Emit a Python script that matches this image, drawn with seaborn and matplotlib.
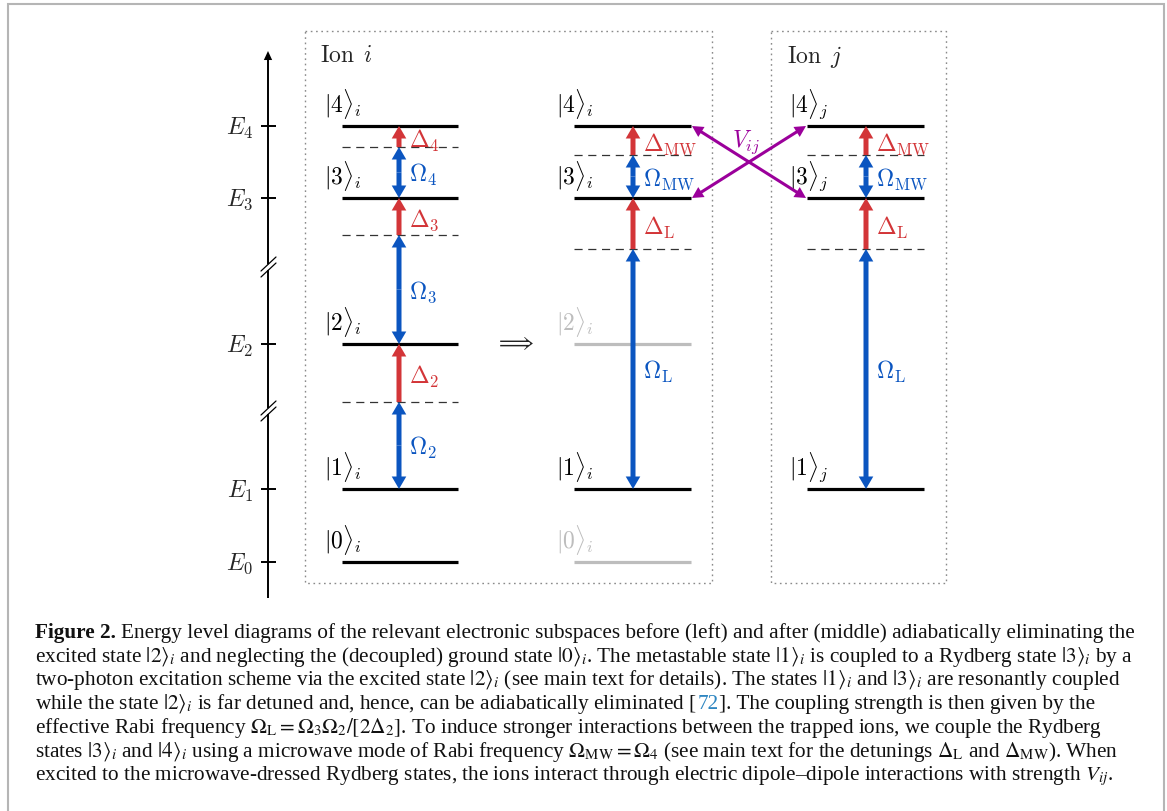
import numpy as np
import pandas as pd
import matplotlib
matplotlib.use("Agg")
import matplotlib.pyplot as plt
from matplotlib.patches import FancyArrowPatch, Rectangle
import seaborn as sns

# ---------------------------------------------------------------- data
energy_labels = [r"$E_0$", r"$E_1$", r"$E_2$", r"$E_3$", r"$E_4$"]
energy_levels = [563, 490, 345, 199, 127]          # diagram energy scale (top = high)
axis_breaks = [268, 412]

col_left = [342, 574, 807]
col_right = [458, 691, 924]
col_arrow = [399, 633, 866]
col_ion = ["i", "i", "j"]

# states drawn in each column and whether they are faded (eliminated)
col0_states = [0, 1, 2, 3, 4]
col0_faded = [False, False, False, False, False]
col1_states = [0, 1, 2, 3, 4]
col1_faded = [True, False, True, False, False]
col2_states = [1, 3, 4]
col2_faded = [False, False, False]

# virtual (detuned) levels per column
virt_col0 = [148, 236, 403]
virt_col1 = [156, 250]
virt_col2 = [156, 250]

# transitions
tr_col = [0, 0, 0, 0, 0, 0, 1, 1, 1, 1, 2, 2, 2, 2]
tr_from = [148, 148, 236, 236, 403, 403, 156, 156, 250, 250, 156, 156, 250, 250]
tr_to = [127, 199, 199, 345, 345, 490, 127, 199, 199, 490, 127, 199, 199, 490]
tr_kind = ["det", "rabi", "det", "rabi", "det", "rabi",
           "det", "rabi", "det", "rabi", "det", "rabi", "det", "rabi"]
tr_label = [r"$\Delta_4$", r"$\Omega_4$", r"$\Delta_3$", r"$\Omega_3$", r"$\Delta_2$", r"$\Omega_2$",
            r"$\Delta_{\rm MW}$", r"$\Omega_{\rm MW}$", r"$\Delta_{\rm L}$", r"$\Omega_{\rm L}$",
            r"$\Delta_{\rm MW}$", r"$\Omega_{\rm MW}$", r"$\Delta_{\rm L}$", r"$\Omega_{\rm L}$"]

caption_lines = [
    [("Figure 2.", "bold"), ("Energy level diagrams of the relevant electronic subspaces before (left) and after (middle) adiabatically eliminating the", "normal")],
    [(r"excited state $|2\rangle_i$ and neglecting the (decoupled) ground state $|0\rangle_i$. The metastable state $|1\rangle_i$ is coupled to a Rydberg state $|3\rangle_i$ by a", "normal")],
    [(r"two-photon excitation scheme via the excited state $|2\rangle_i$ (see main text for details). The states $|1\rangle_i$ and $|3\rangle_i$ are resonantly coupled", "normal")],
    [(r"while the state $|2\rangle_i$ is far detuned and, hence, can be adiabatically eliminated [", "normal"), ("72", "link"), ("]. The coupling strength is then given by the", "tight")],
    [(r"effective Rabi frequency $\Omega_{\rm L}=\Omega_3\Omega_2/[2\Delta_2]$. To induce stronger interactions between the trapped ions, we couple the Rydberg", "normal")],
    [(r"states $|3\rangle_i$ and $|4\rangle_i$ using a microwave mode of Rabi frequency $\Omega_{\rm MW}=\Omega_4$ (see main text for the detunings $\Delta_{\rm L}$ and $\Delta_{\rm MW}$). When", "normal")],
    [(r"excited to the microwave-dressed Rydberg states, the ions interact through electric dipole–dipole interactions with strength $V_{ij}$.", "normal")],
]

# ---------------------------------------------------------------- style
sns.set_theme(style="white")
plt.rcParams["font.family"] = ["Liberation Serif", "DejaVu Serif"]
plt.rcParams["mathtext.fontset"] = "cm"

RED = "#d33538"
BLUE = "#0b55c0"
PURPLE = "#9b009b"
FADE = "#bdbdbd"
LINK = "#2e86c1"
LFS = 17   # diagram label size

W, H = 1167, 812
fig = plt.figure(figsize=(W / 100, H / 100), dpi=100)
ax = fig.add_axes([0, 0, 1, 1])
ax.set_xlim(0, W)
ax.set_ylim(H, 0)
ax.axis("off")

# outer frame (open at the bottom)
ax.plot([7.5, 7.5, 1164, 1164], [H + 10, 4.5, 4.5, H + 10], color="#b5b5b5", lw=1.5,
        solid_joinstyle="miter")

# dotted ion boxes
for x0, x1 in [(305, 712), (771, 946)]:
    ax.add_patch(Rectangle((x0, 32), x1 - x0, 552, fill=False, ec="#8a8a8a", lw=1.0,
                           ls=(0, (1.2, 2.6))))
ax.text(320, 57, r"$\mathrm{Ion}\ \,i$", fontsize=LFS, va="center", ha="left")
ax.text(787, 57, r"$\mathrm{Ion}\ \,j$", fontsize=LFS, va="center", ha="left")

# energy axis
ax.add_patch(FancyArrowPatch((268, 599), (268, 52), arrowstyle="simple,head_length=6.5,head_width=6,tail_width=1.4",
                             mutation_scale=1, shrinkA=0, shrinkB=0, color="black", lw=0))
for y, lab in zip(energy_levels, energy_labels):
    ax.plot([261, 276], [y, y], color="black", lw=1.4, solid_capstyle="butt")
    ax.text(253, y + 1, lab, fontsize=LFS, ha="right", va="center")
for yb in axis_breaks:
    ax.plot([262, 275], [yb + 1, yb - 1], color="white", lw=4)
    for off in (-3, 3):
        ax.plot([261, 276], [yb + off + 7, yb + off - 7], color="black", lw=0.9)

# levels
col_states = [col0_states, col1_states, col2_states]
col_faded = [col0_faded, col1_faded, col2_faded]
for c in range(3):
    for s, faded in zip(col_states[c], col_faded[c]):
        y = energy_levels[s]
        colr = FADE if faded else "black"
        ax.plot([col_left[c], col_right[c]], [y, y], color=colr, lw=2.3, solid_capstyle="butt")
        ax.text(col_left[c] - 18, y - 14, rf"$|{s}\rangle_{{{col_ion[c]}}}$", fontsize=LFS,
                ha="left", va="baseline", color=colr)

for c, virt in enumerate([virt_col0, virt_col1, virt_col2]):
    for y in virt:
        ax.plot([col_left[c], col_right[c]], [y, y], color="#333333", lw=0.9,
                ls=(0, (6.5, 4.5)))

# transitions
def arrow(p0, p1, color, hl, hw, tw):
    ax.add_patch(FancyArrowPatch(p0, p1,
                                 arrowstyle=f"simple,head_length={hl},head_width={hw},tail_width={tw}",
                                 mutation_scale=1, shrinkA=0, shrinkB=0, color=color, lw=0,
                                 zorder=4))

for c, y0, y1, kind, lab in zip(tr_col, tr_from, tr_to, tr_kind, tr_label):
    x = col_arrow[c]
    if kind == "det":
        arrow((x, y0), (x, y1), RED, 9, 10.5, 3.6)
        colr = RED
        dy = 3
    else:
        ym = 0.5 * (y0 + y1)
        arrow((x, ym), (x, y0), BLUE, 9, 10.5, 3.6)
        arrow((x, ym), (x, y1), BLUE, 9, 10.5, 3.6)
        colr = BLUE
        dy = 1.5
    ax.text(x + 10, 0.5 * (y0 + y1) + dy, lab, fontsize=LFS, ha="left", va="center", color=colr)

# interaction V_ij between ion i (middle column) and ion j
e3, e4 = energy_levels[3], energy_levels[4]
for ya, yb in [(e4, e3), (e3, e4)]:
    xa, xb = col_right[1] + 1, col_left[2] - 1
    xm, ymid = 0.5 * (xa + xb), 0.5 * (ya + yb)
    arrow((xm, ymid), (xa, ya), PURPLE, 8, 8.5, 2.2)
    arrow((xm, ymid), (xb, yb), PURPLE, 8, 8.5, 2.2)
ax.text(746, 142, r"$V_{ij}$", fontsize=LFS, ha="center", va="center", color=PURPLE)

ax.text(515, 345, r"$\Longrightarrow$", fontsize=16, ha="center", va="center", color="#222222")

# caption
cap_fs = 15.3
renderer = fig.canvas.get_renderer()
probe1 = ax.text(0, -100, "a a", fontsize=cap_fs)
probe2 = ax.text(0, -100, "aa", fontsize=cap_fs)
space_w = probe1.get_window_extent(renderer).width - probe2.get_window_extent(renderer).width
probe1.remove(); probe2.remove()

y = 638
for line in caption_lines:
    x = 35
    for k, (txt, kind) in enumerate(line):
        kw = dict(fontsize=cap_fs, ha="left", va="baseline", math_fontfamily="stix", color="#111111")
        if kind == "bold":
            kw["fontweight"] = "bold"
        if kind == "link":
            kw["color"] = LINK
        t = ax.text(x, y, txt, **kw)
        x += t.get_window_extent(renderer).width
        if kind == "bold":
            x += space_w
        else:
            x += 0.5
    y += 23.7

fig.savefig("out.png", dpi=100)
